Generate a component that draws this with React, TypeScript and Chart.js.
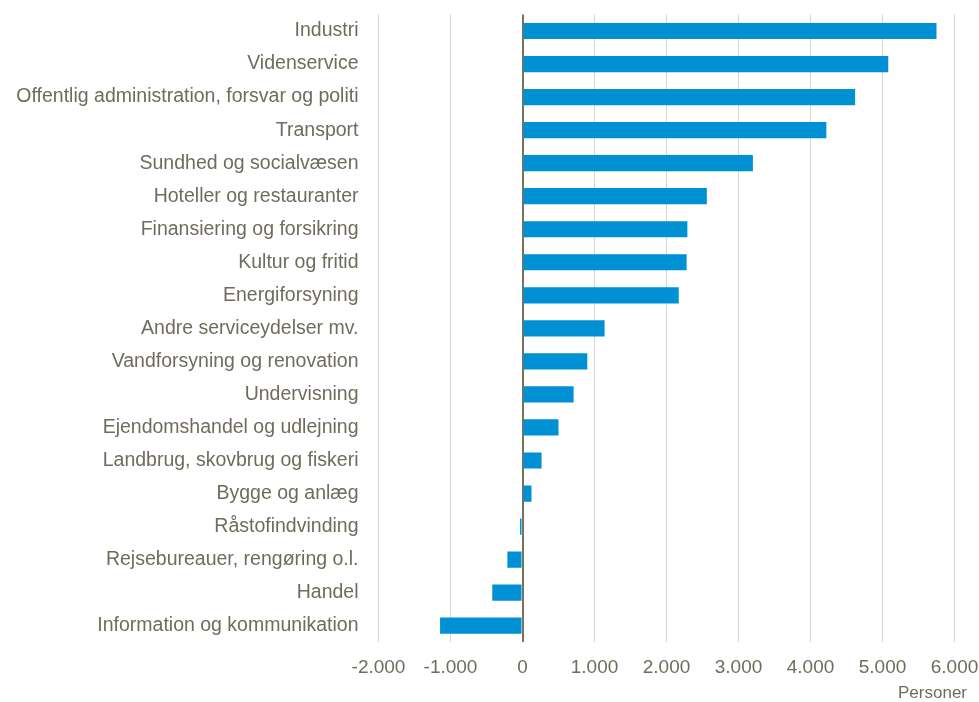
import React, { useEffect, useRef } from "react";
import { Chart, registerables } from "chart.js";

Chart.register(...registerables);

const categories = [
  "Industri",
  "Videnservice",
  "Offentlig administration, forsvar og politi",
  "Transport",
  "Sundhed og socialvæsen",
  "Hoteller og restauranter",
  "Finansiering og forsikring",
  "Kultur og fritid",
  "Energiforsyning",
  "Andre serviceydelser mv.",
  "Vandforsyning og renovation",
  "Undervisning",
  "Ejendomshandel og udlejning",
  "Landbrug, skovbrug og fiskeri",
  "Bygge og anlæg",
  "Råstofindvinding",
  "Rejsebureauer, rengøring o.l.",
  "Handel",
  "Information og kommunikation",
];

const values = [
  5750, 5080, 4620, 4220, 3200, 2560, 2290, 2280, 2170, 1140, 900, 710, 500,
  265, 125, -35, -210, -420, -1145,
];

const xMin = -2000;
const xMax = 6000;
const xStep = 1000;
const axisTitle = "Personer";

const fmt = (v: number) => {
  const s = Math.abs(v).toString().replace(/\B(?=(\d{3})+(?!\d))/g, ".");
  return (v < 0 ? "-" : "") + s;
};

const textColor = "#6f6c5d";
const fontFamily = "'Liberation Sans', Arial, sans-serif";

const titlePlugin = {
  id: "axisTitleRight",
  afterDraw(chart: any) {
    const ctx = chart.ctx;
    ctx.save();
    ctx.font = `17px ${fontFamily}`;
    ctx.fillStyle = textColor;
    ctx.textAlign = "right";
    ctx.textBaseline = "middle";
    ctx.fillText(axisTitle, chart.width - 12, chart.scales.x.bottom);
    ctx.restore();
  },
};

export default function App() {
  const ref = useRef<HTMLCanvasElement>(null);
  useEffect(() => {
    if (!ref.current) return;
    const chart = new Chart(ref.current, {
      type: "bar",
      data: {
        labels: categories,
        datasets: [
          {
            data: values,
            backgroundColor: "#0091d5",
            borderWidth: 0,
            barPercentage: 0.49,
            categoryPercentage: 1,
          },
        ],
      },
      options: {
        indexAxis: "y",
        animation: false,
        responsive: false,
        maintainAspectRatio: false,
        layout: { padding: { top: 14.5, right: 24.5, bottom: 9, left: 0 } },
        plugins: { legend: { display: false }, tooltip: { enabled: false } },
        scales: {
          x: {
            min: xMin,
            max: xMax,
            ticks: {
              stepSize: xStep,
              color: textColor,
              font: { family: fontFamily, size: 19 },
              padding: 14,
              callback: (v: any) => fmt(Number(v)),
              maxRotation: 0,
            },
            grid: {
              color: (ctx: any) => (ctx.tick && ctx.tick.value === 0 ? "#77735f" : "#d6d6d6"),
              lineWidth: (ctx: any) => (ctx.tick && ctx.tick.value === 0 ? 2 : 1),
              drawTicks: false,
            },
            border: { display: false },
            afterFit: (scale: any) => {
              scale.paddingLeft = 0;
              scale.paddingRight = 0;
            },
          },
          y: {
            ticks: {
              color: textColor,
              font: { family: fontFamily, size: 19.5 },
              padding: 20,
              autoSkip: false,
            },
            grid: { display: false, drawTicks: false },
            border: { display: false },
            afterFit: (scale: any) => {
              scale.width = 378.5;
              scale.paddingTop = 0;
              scale.paddingBottom = 0;
            },
          },
        },
      },
      plugins: [titlePlugin],
    });
    return () => chart.destroy();
  }, []);
  return (
    <div style={{ position: "fixed", left: 0, top: 0, width: 979, height: 702, background: "#fff" }}>
      <canvas ref={ref} width={979} height={702} style={{ width: 979, height: 702 }} />
    </div>
  );
}
